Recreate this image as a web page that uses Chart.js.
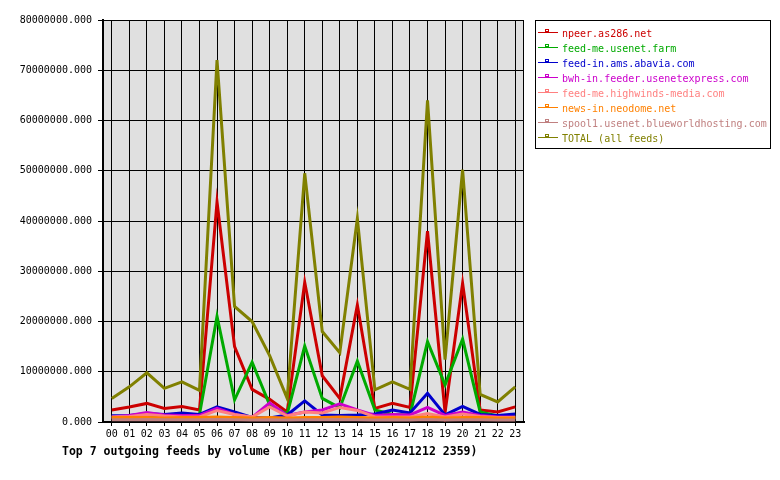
<!DOCTYPE html>
<html>
<head>
<meta charset="utf-8">
<script src="https://cdn.jsdelivr.net/npm/chart.js@4/dist/chart.umd.min.js"></script>
<style>
html,body{margin:0;padding:0;background:#fff;}
#wrap{width:780px;height:480px;position:relative;}
</style>
</head>
<body>
<div id="wrap"><canvas id="c" width="780" height="480"></canvas></div>
<script>
const hours = ['00','01','02','03','04','05','06','07','08','09','10','11','12','13','14','15','16','17','18','19','20','21','22','23'];
const feedNames = ['npeer.as286.net','feed-me.usenet.farm','feed-in.ams.abavia.com','bwh-in.feeder.usenetexpress.com','feed-me.highwinds-media.com','news-in.neodome.net','spool1.usenet.blueworldhosting.com','TOTAL (all feeds)'];
const npeer     = [2400000,3000000,3700000,2700000,3100000,2400000,43800000,15000000,6500000,4500000,2000000,27800000,9200000,4700000,23300000,2700000,3700000,2900000,38000000,1900000,27600000,2400000,2000000,3000000];
const usenetFarm= [1000000,1100000,1300000,1200000,1400000,1500000,21000000,4400000,11900000,3400000,1600000,15100000,4700000,2800000,12100000,2400000,1500000,1400000,16000000,7400000,16500000,2000000,1200000,1200000];
const abavia    = [1250000,1300000,1700000,1500000,1800000,1500000,3000000,2000000,900000,800000,1400000,4200000,1400000,1300000,1400000,1600000,2400000,1800000,5700000,1400000,3100000,1500000,1300000,1600000];
const usenetExpress = [1000000,1300000,1900000,1400000,1300000,1300000,2700000,1500000,900000,3800000,1300000,2000000,2400000,3600000,2400000,1300000,1500000,1400000,2900000,1300000,2000000,1300000,1000000,1000000];
const highwinds = [1000000,1100000,1500000,1200000,1000000,1000000,2300000,1500000,1000000,3000000,1200000,2000000,1800000,2900000,2300000,1000000,1000000,1000000,1700000,1000000,1600000,1100000,900000,900000];
const neodome   = [900000,900000,900000,800000,900000,900000,1000000,900000,800000,900000,800000,900000,900000,1000000,900000,800000,900000,800000,1000000,800000,900000,900000,800000,800000];
const blueworld = [450000,450000,500000,450000,450000,450000,500000,450000,400000,450000,400000,450000,450000,500000,450000,400000,450000,400000,500000,400000,450000,450000,400000,400000];
const total     = [4700000,7000000,9800000,6700000,8000000,6300000,72000000,23000000,20000000,13200000,4700000,49500000,18000000,13800000,40500000,6400000,8000000,6500000,64000000,12400000,50200000,5500000,4000000,7000000];
const yTicks = [0,10000000,20000000,30000000,40000000,50000000,60000000,70000000,80000000];
const chartTitle = 'Top 7 outgoing feeds by volume (KB) per hour (20241212 2359)';

const colors = ['#cc0000','#00aa00','#0000cc','#cc00cc','#ff8080','#ff8000','#c08080','#808000'];
const series = [npeer, usenetFarm, abavia, usenetExpress, highwinds, neodome, blueworld, total];
const MONO = '"DejaVu Sans Mono", "Liberation Mono", monospace';

const datasets = series.map((d, i) => ({
  label: feedNames[i],
  data: d,
  borderColor: colors[i],
  backgroundColor: colors[i],
  borderWidth: 3,
  pointRadius: 0,
  pointHoverRadius: 0,
  tension: 0,
  fill: false,
  order: series.length - i
}));

const decor = {
  id: 'decor',
  beforeDraw(chart) {
    const ctx = chart.ctx, a = chart.chartArea;
    ctx.save();
    ctx.fillStyle = '#ffffff';
    ctx.fillRect(0, 0, chart.width, chart.height);
    ctx.fillStyle = '#e0e0e0';
    ctx.fillRect(a.left, a.top, a.right - a.left, a.bottom - a.top);
    ctx.restore();
  },
  beforeDatasetsDraw(chart) {
    const ctx = chart.ctx, a = chart.chartArea;
    ctx.save();
    ctx.strokeStyle = '#000';
    ctx.lineWidth = 1;
    ctx.beginPath();
    ctx.moveTo(Math.round(a.right) - 0.5, a.top);
    ctx.lineTo(Math.round(a.right) - 0.5, a.bottom);
    ctx.stroke();
    ctx.restore();
  },
  afterDraw(chart) {
    const ctx = chart.ctx;
    ctx.save();
    ctx.strokeStyle = '#000';
    ctx.lineWidth = 1;
    ctx.strokeRect(535.5, 20.5, 235, 128);
    ctx.font = '10px ' + MONO;
    ctx.textBaseline = 'middle';
    ctx.textAlign = 'left';
    chart.data.datasets.forEach((ds, i) => {
      const y = 33 + 15 * i;
      ctx.strokeStyle = ds.borderColor;
      ctx.lineWidth = 1;
      ctx.beginPath();
      ctx.moveTo(538, y - 0.5);
      ctx.lineTo(558, y - 0.5);
      ctx.stroke();
      ctx.strokeRect(545.5, y - 3.5, 3, 2);
      ctx.fillStyle = ds.borderColor;
      ctx.fillText(ds.label, 562, y + 1);
    });
    ctx.fillStyle = '#000';
    ctx.font = 'bold 11.5px ' + MONO;
    ctx.textBaseline = 'middle';
    ctx.fillText(chartTitle, 62, 452);
    ctx.restore();
  }
};

new Chart(document.getElementById('c'), {
  type: 'line',
  data: { labels: hours, datasets },
  options: {
    responsive: false,
    animation: false,
    devicePixelRatio: 1,
    layout: { padding: { left: 0, top: 20, right: 256, bottom: 34 } },
    plugins: { legend: { display: false }, title: { display: false }, tooltip: { enabled: false } },
    scales: {
      x: {
        offset: true,
        grid: { offset: false, color: '#000', lineWidth: 1, tickLength: 4, drawTicks: true },
        border: { color: '#000', width: 2 },
        ticks: { color: '#000', font: { family: MONO, size: 10 }, padding: 2, maxRotation: 0, autoSkip: false },
        afterFit(s) { s.height = 24; }
      },
      y: {
        min: 0,
        max: 80000000,
        afterBuildTicks(s) { s.ticks = yTicks.map(v => ({ value: v })); },
        grid: { color: '#000', lineWidth: 1, tickLength: 5 },
        border: { color: '#000', width: 2 },
        ticks: { color: '#000', font: { family: MONO, size: 10 }, padding: 6, callback: v => Number(v).toFixed(3) },
        afterFit(s) { s.width = 103; }
      }
    }
  },
  plugins: [decor]
});
</script>
</body>
</html>
